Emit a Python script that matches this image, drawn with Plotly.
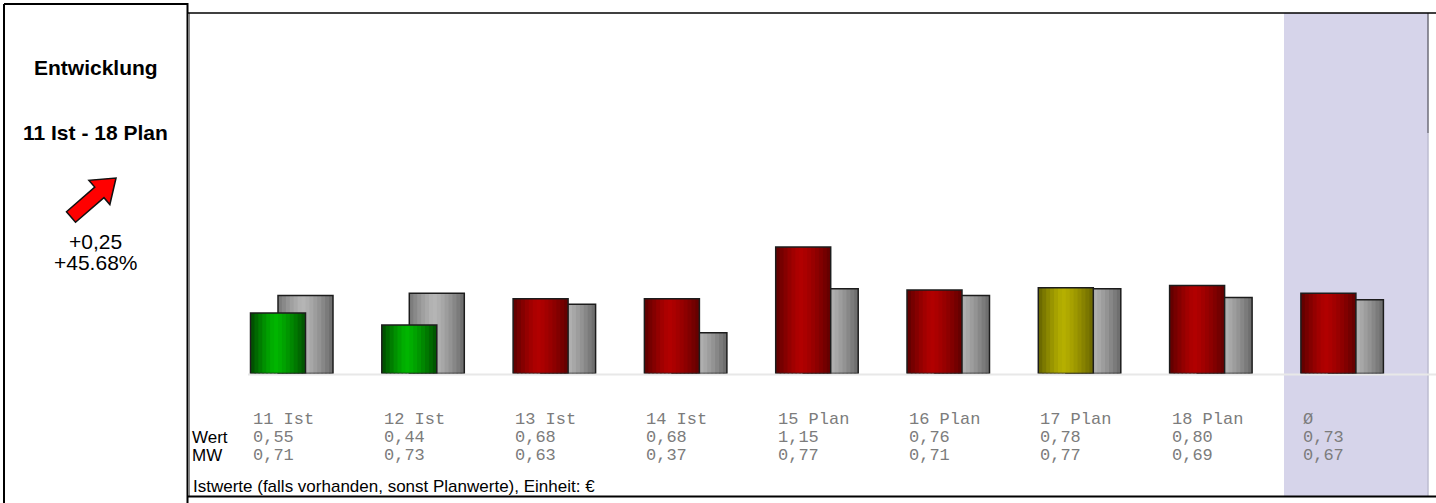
import plotly.graph_objects as go

# chart values
categories = ["11 Ist", "12 Ist", "13 Ist", "14 Ist", "15 Plan", "16 Plan", "17 Plan", "18 Plan", "Ø"]
wert = [0.55, 0.44, 0.68, 0.68, 1.15, 0.76, 0.78, 0.80, 0.73]
mw = [0.71, 0.73, 0.63, 0.37, 0.77, 0.71, 0.77, 0.69, 0.67]
status = ["green", "green", "red", "red", "red", "red", "yellow", "red", "red"]

title_lines = ["Entwicklung", "11 Ist - 18 Plan"]
trend_abs = "+0,25"
trend_pct = "+45.68%"
footer = "Istwerte (falls vorhanden, sonst Planwerte), Einheit: €"

W, H = 1436, 503


def px(x):
    return x / W


def py(y):
    return 1 - y / H


# gradient colours (left edge, highlight, right edge)
gradients = {
    "red": ((92, 0, 0), (178, 0, 0), (96, 0, 0)),
    "green": ((0, 72, 0), (0, 182, 0), (0, 78, 0)),
    "yellow": ((100, 98, 0), (182, 176, 0), (104, 100, 0)),
    "gray": ((118, 118, 118), (182, 182, 182), (104, 104, 104)),
}


def shade(name, t, peak=0.45):
    left, mid, right = gradients[name]
    if t < peak:
        a, b, s = left, mid, t / peak
    else:
        a, b, s = mid, right, (t - peak) / (1 - peak)
    s = s ** 1.3 if t >= peak else 1 - (1 - s) ** 1.3
    return "rgb(%d,%d,%d)" % tuple(round(a[c] + (b[c] - a[c]) * s) for c in range(3))


# geometry: index i sits at the right edge of the coloured bar
step = 131.3
origin = 305.5
bw = 55 / step
n_strips = 14
sw = bw / n_strips
base_px = 373.5
unit_px = 110

idx = list(range(len(categories)))
fig = go.Figure()


def add_bar(values, names, offset):
    for k in range(n_strips):
        t = (k + 0.5) / n_strips
        fig.add_trace(go.Bar(
            x=idx, y=values,
            offset=offset + k * sw,
            width=min(sw * 1.4, bw - k * sw),
            marker=dict(color=[shade(n, t) for n in names], line=dict(width=0)),
            hoverinfo="skip",
        ))
    fig.add_trace(go.Bar(
        x=idx, y=values, offset=offset, width=bw,
        marker=dict(color="rgba(0,0,0,0)", line=dict(color="#1c1c1c", width=1.5)),
        hoverinfo="skip",
    ))


# gray MW bars behind, coloured Wert bars in front
add_bar(mw, ["gray"] * len(mw), -bw / 2)
add_bar(wert, status, -bw)

annotations = []
mono = dict(family="Liberation Mono, Courier New, monospace", size=17, color="#7c7c7c")
sans = dict(family="Liberation Sans, Arial, sans-serif", size=17, color="#000")
for i, cat in enumerate(categories):
    for row_y, txt in ((419.5, cat),
                       (437, f"{wert[i]:.2f}".replace(".", ",")),
                       (455, f"{mw[i]:.2f}".replace(".", ","))):
        annotations.append(dict(x=i - bw, y=py(row_y), xref="x", yref="paper", text=txt,
                                showarrow=False, xanchor="left", yanchor="middle", font=mono))

annotations.append(dict(x=px(190), y=py(437), xref="paper", yref="paper", text="Wert",
                        showarrow=False, xanchor="left", yanchor="middle", font=sans))
annotations.append(dict(x=px(190), y=py(455), xref="paper", yref="paper", text="MW",
                        showarrow=False, xanchor="left", yanchor="middle", font=sans))
annotations.append(dict(x=px(191), y=py(486.5), xref="paper", yref="paper", text=footer,
                        showarrow=False, xanchor="left", yanchor="middle", font=sans))

bold = dict(family="Liberation Sans, Arial, sans-serif", size=21, color="#000")
reg = dict(family="Liberation Sans, Arial, sans-serif", size=21, color="#000")
for y, txt, f in ((67, "<b>%s</b>" % title_lines[0], bold),
                  (132, "<b>%s</b>" % title_lines[1], bold),
                  (241.5, trend_abs, reg),
                  (262, trend_pct, reg)):
    annotations.append(dict(x=px(95.5), y=py(y), xref="paper", yref="paper", text=txt,
                            showarrow=False, xanchor="center", yanchor="middle", font=f))

# fat trend arrow
tip = (116, 178)
tail = (71, 217)
dx, dy = tip[0] - tail[0], tip[1] - tail[1]
ln = (dx * dx + dy * dy) ** 0.5
ux, uy = dx / ln, dy / ln
nx, ny = -uy, ux
hb = (tip[0] - 22 * ux, tip[1] - 22 * uy)
pts = [
    (tail[0] - 7 * nx, tail[1] - 7 * ny),
    (hb[0] - 7 * nx, hb[1] - 7 * ny),
    (hb[0] - 16 * nx, hb[1] - 16 * ny),
    tip,
    (hb[0] + 16 * nx, hb[1] + 16 * ny),
    (hb[0] + 7 * nx, hb[1] + 7 * ny),
    (tail[0] + 7 * nx, tail[1] + 7 * ny),
]
arrow_path = "M " + " L ".join("%.4f,%.4f" % (px(a), py(b)) for a, b in pts) + " Z"


def line(x0, y0, x1, y1, color="#000", width=2, layer="above"):
    return dict(type="line", xref="paper", yref="paper", x0=px(x0), y0=py(y0),
                x1=px(x1), y1=py(y1), line=dict(color=color, width=width), layer=layer)


shapes = [
    dict(type="rect", xref="paper", yref="paper", x0=px(1284), x1=px(1428), y0=py(13), y1=py(496),
         fillcolor="#d6d4ea", line=dict(width=0), layer="below"),
    line(1428, 13, 1428, 133, color="#6e6e7a", width=1.5, layer="below"),
    line(1428, 133, 1428, 496, color="#bdbcd0", width=1.5, layer="below"),
    line(248, 374.5, 1436, 374.5, color="#e8e8e8", width=2, layer="below"),
    line(189.5, 13, 189.5, 496, color="#8a8a8a", width=1),
    line(4, 4, 187.5, 4),
    line(4, 4, 4, 503),
    line(187.5, 3, 187.5, 503),
    line(188, 13, 1436, 13, width=1.6),
    line(188, 496.5, 1436, 496.5, width=2),
    dict(type="path", xref="paper", yref="paper", path=arrow_path,
         fillcolor="#ff0000", line=dict(color="#111", width=1.5), layer="above"),
]

fig.update_layout(
    width=W, height=H,
    margin=dict(l=0, r=0, t=0, b=0),
    paper_bgcolor="white",
    plot_bgcolor="rgba(0,0,0,0)",
    barmode="overlay",
    showlegend=False,
    hovermode=False,
    xaxis=dict(domain=[px(188), 1], range=[(188 - origin) / step, (W - origin) / step],
               visible=False, fixedrange=True),
    yaxis=dict(domain=[py(base_px), py(13)], range=[0, (base_px - 13) / unit_px],
               visible=False, fixedrange=True),
    annotations=annotations,
    shapes=shapes,
)

# drop the default page margin so the figure fills the window exactly
fig.write_html("out.html", config={"displayModeBar": False},
               post_script="document.body.style.margin='0';document.body.style.overflow='hidden';")
